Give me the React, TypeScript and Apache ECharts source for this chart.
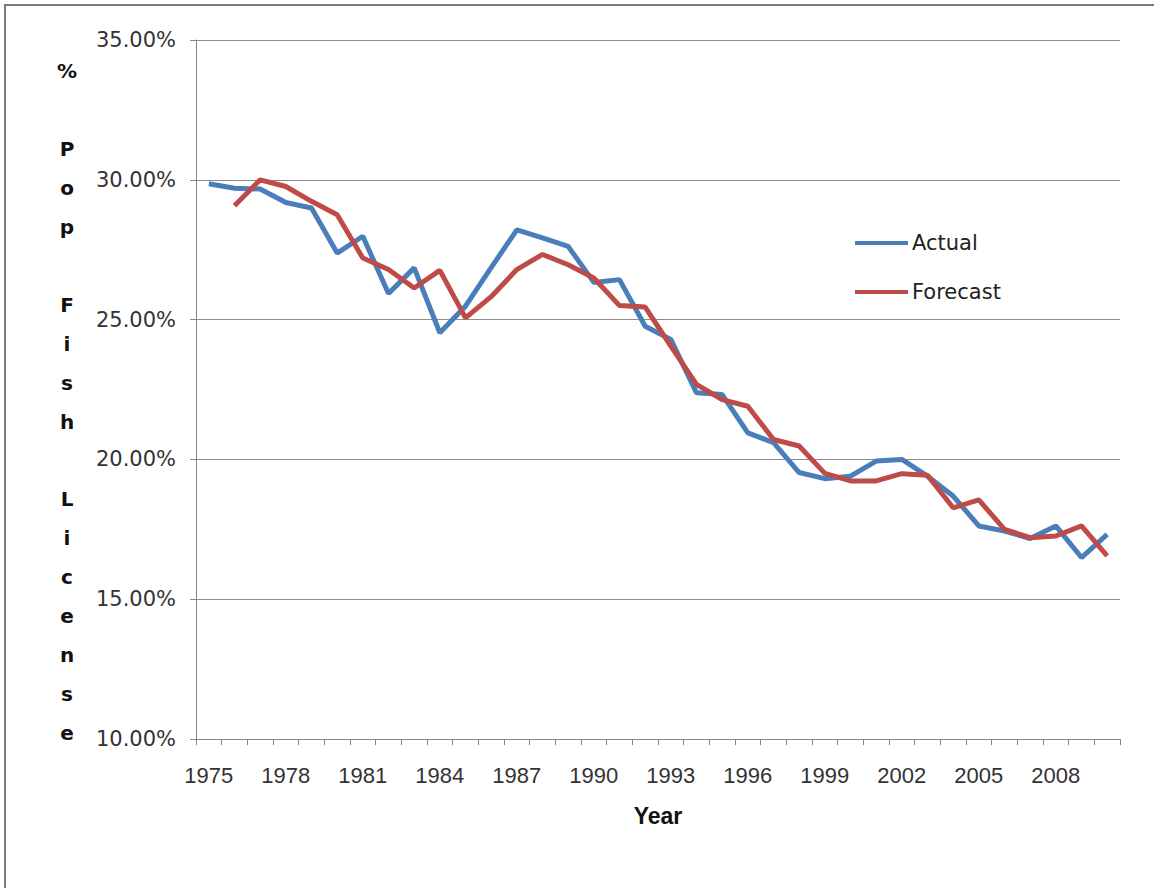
import React, { useEffect, useRef } from "react";
import * as echarts from "echarts";

const years = [
  "1975", "1976", "1977", "1978", "1979", "1980", "1981", "1982", "1983", "1984",
  "1985", "1986", "1987", "1988", "1989", "1990", "1991", "1992", "1993", "1994",
  "1995", "1996", "1997", "1998", "1999", "2000", "2001", "2002", "2003", "2004",
  "2005", "2006", "2007", "2008", "2009", "2010",
];

const actual = [
  29.86, 29.7, 29.67, 29.19, 28.99, 27.38, 27.98, 25.93, 26.85, 24.53,
  25.48, 26.86, 28.21, 27.92, 27.62, 26.33, 26.43, 24.76, 24.29, 22.38,
  22.32, 20.95, 20.6, 19.53, 19.31, 19.4, 19.94, 20.0, 19.4, 18.69,
  17.62, 17.44, 17.17, 17.62, 16.49, 17.32,
];

const forecast = [
  null, 29.07, 30.0, 29.76, 29.23, 28.75, 27.2, 26.79, 26.13, 26.76,
  25.06, 25.82, 26.79, 27.33, 26.96, 26.49, 25.5, 25.45, 24.05, 22.68,
  22.14, 21.9, 20.71, 20.48, 19.5, 19.23, 19.23, 19.49, 19.43, 18.27,
  18.55, 17.5, 17.2, 17.26, 17.62, 16.55,
];

const seriesNames = ["Actual", "Forecast"];
const yTitle = "%\n\nP\no\np\n\nF\ni\ns\nh\n\nL\ni\nc\ne\nn\ns\ne";
const xTitle = "Year";

export default function App() {
  const ref = useRef<HTMLDivElement>(null);
  useEffect(() => {
    if (!ref.current) return;
    const chart = echarts.init(ref.current, null, { renderer: "svg" });
    chart.setOption({
      animation: false,
      backgroundColor: "#ffffff",
      grid: { left: 196, right: 34, top: 40, bottom: 149 },
      legend: {
        orient: "vertical",
        left: 850,
        top: 226,
        icon: "rect",
        itemWidth: 53,
        itemHeight: 4,
        itemGap: 25,
        textStyle: { fontFamily: "DejaVu Sans", fontSize: 21, color: "#222", lineHeight: 24, padding: [0, 0, 0, -1] },
        data: seriesNames,
      },
      graphic: [
        {
          type: "rect",
          shape: { x: 5, y: 5, width: 1300, height: 1000 },
          style: { fill: "none", stroke: "#7a7a7a", lineWidth: 2 },
          silent: true,
        },
        {
          type: "text",
          x: 67,
          y: 52,
          style: {
            text: yTitle,
            fontFamily: "DejaVu Sans",
            fontWeight: "bold",
            fontSize: 20,
            lineHeight: 38.9,
            fill: "#111",
            align: "center",
            verticalAlign: "top",
          },
        },
      ],
      xAxis: {
        type: "category",
        data: years,
        boundaryGap: true,
        name: xTitle,
        nameLocation: "middle",
        nameGap: 65,
        nameTextStyle: { fontFamily: "Liberation Sans", fontWeight: "bold", fontSize: 23, color: "#111" },
        axisLine: { lineStyle: { color: "#868686", width: 1 } },
        axisTick: { show: true, interval: 0, length: 6, lineStyle: { color: "#868686" } },
        axisLabel: {
          interval: 2,
          margin: 25,
          fontFamily: "Liberation Sans",
          fontSize: 22,
          color: "#333",
        },
        splitLine: { show: false },
      },
      yAxis: {
        type: "value",
        min: 10,
        max: 35,
        interval: 5,
        axisLine: { show: true, lineStyle: { color: "#868686", width: 1 } },
        axisTick: { show: true, length: 6, lineStyle: { color: "#868686" } },
        axisLabel: {
          margin: 20,
          fontFamily: "DejaVu Sans",
          fontSize: 21,
          color: "#333",
          formatter: (v: number) => v.toFixed(2) + "%",
        },
        splitLine: { show: true, lineStyle: { color: "#8c8c8c", width: 1 } },
      },
      series: [
        {
          name: seriesNames[0],
          type: "line",
          data: actual,
          showSymbol: false,
          symbol: "none",
          lineStyle: { color: "#4a7ebb", width: 5 },
          itemStyle: { color: "#4a7ebb" },
          z: 2,
        },
        {
          name: seriesNames[1],
          type: "line",
          data: forecast,
          showSymbol: false,
          symbol: "none",
          lineStyle: { color: "#be4b48", width: 5 },
          itemStyle: { color: "#be4b48" },
          z: 3,
        },
      ],
    });
    return () => chart.dispose();
  }, []);
  return (
    <div
      ref={ref}
      style={{ position: "fixed", left: 0, top: 0, width: 1154, height: 888 }}
    />
  );
}
